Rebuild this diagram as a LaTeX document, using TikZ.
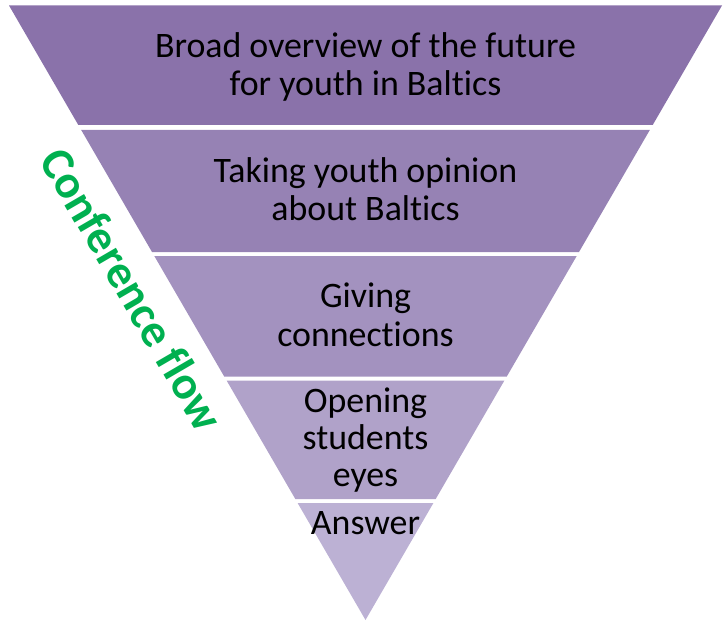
\documentclass[tikz,border=0pt]{standalone}
\usepackage{fontspec}
\setmainfont{Carlito}[Ligatures=NoCommon]
\definecolor{bandA}{HTML}{8A72AA}
\definecolor{bandB}{HTML}{9682B4}
\definecolor{bandC}{HTML}{A392BF}
\definecolor{bandD}{HTML}{B0A2C9}
\definecolor{bandE}{HTML}{BCB1D4}
\definecolor{flowgreen}{HTML}{00B050}
\tikzset{
  bandtext/.style={anchor=base, inner sep=0pt, font=\fontsize{36}{38}\selectfont, text=black},
  flowtext/.style={inner sep=0pt, font=\fontsize{47}{50}\selectfont\bfseries, text=flowgreen}
}
\begin{document}
\begin{tikzpicture}[x=1bp,y=-1bp]
\useasboundingbox (0,0) rectangle (727,621);
\begin{scope}[xshift=365.5bp]
% bands (half-width = 0.58015*(620-y))
\fill[bandA] (-356.5,5.5) -- (356.5,5.5) -- (287.2,125) -- (-287.2,125) -- cycle;
\fill[bandB] (-284.3,130) -- (284.3,130) -- (213.5,252) -- (-213.5,252) -- cycle;
\fill[bandC] (-211.2,256) -- (211.2,256) -- (141.3,376.5) -- (-141.3,376.5) -- cycle;
\fill[bandD] (-138.9,380.5) -- (138.9,380.5) -- (70.2,499) -- (-70.2,499) -- cycle;
\fill[bandE] (-67.9,503) -- (67.9,503) -- (0,620) -- cycle;
% texts
\node[bandtext] (a1) at (0,57.7) {Broad overview of the future};
\node[bandtext] (a2) at (0,95.3) {for youth in Baltics};
\node[bandtext] (b1) at (0,182.3) {Taking youth opinion};
\node[bandtext] (b2) at (0,220.7) {about Baltics};
\node[bandtext] (c1) at (0,307) {Giving};
\node[bandtext] (c2) at (0,346) {connections};
\node[bandtext] (d1) at (0,412.7) {Opening};
\node[bandtext] (d2) at (0,449.5) {students};
\node[bandtext] (d3) at (0,486) {eyes};
\node[bandtext] (e1) at (0,534) {Answer};
\end{scope}
\node[flowtext, rotate=-59.8] (flow) at (132.5,289) {Conference flow};
\end{tikzpicture}
\end{document}
